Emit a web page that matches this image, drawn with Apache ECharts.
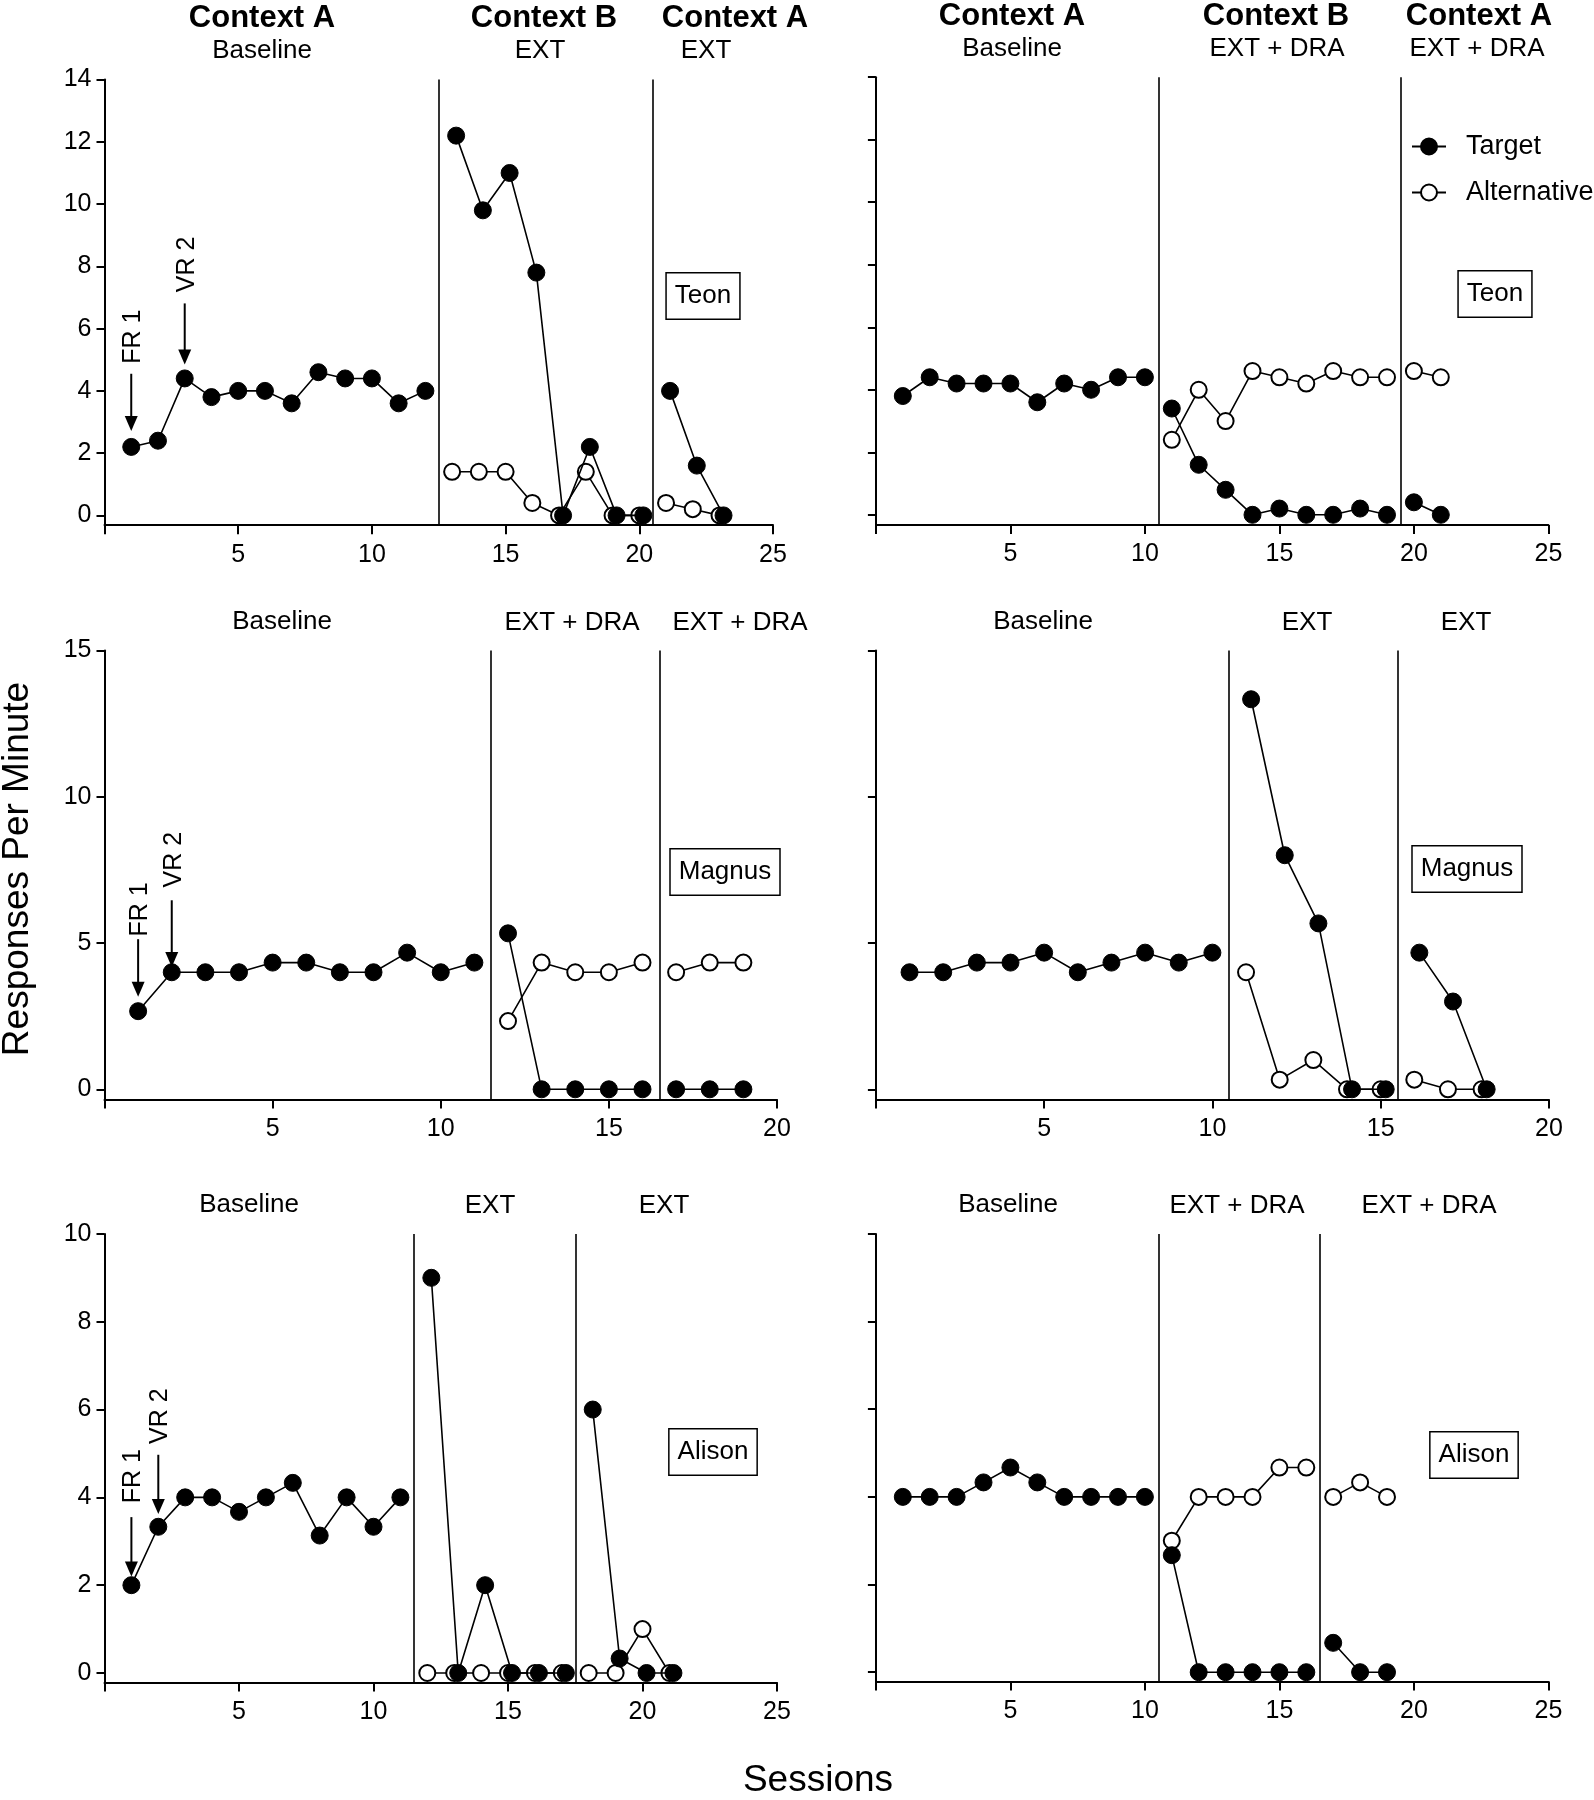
<!DOCTYPE html>
<html><head><meta charset="utf-8">
<script src="https://cdn.jsdelivr.net/npm/echarts@6/dist/echarts.min.js"></script>
<style>html,body{margin:0;padding:0;background:#fff}#c{width:1594px;height:1800px}</style>
</head><body><div id="c"></div>
<script>
// ---------------- DATA ----------------
// Teon, panel 1 (A-B-A, EXT)
const teon1_baseX = [1,2,3,4,5,6,7,8,9,10,11,12];
const teon1_baseTarget = [2.2,2.4,4.4,3.8,4.0,4.0,3.6,4.6,4.4,4.4,3.6,4.0];
const teon1_p2AltX = [13,14,15,16,17,18,19,20];
const teon1_p2Alt = [1.4,1.4,1.4,0.4,0,1.4,0,0];
const teon1_p2TargetX = [13.15,14.15,15.15,16.15,17.15,18.15,19.15,20.15];
const teon1_p2Target = [12.2,9.8,11.0,7.8,0,2.2,0,0];
const teon1_p3AltX = [21,22,23];
const teon1_p3Alt = [0.4,0.2,0];
const teon1_p3TargetX = [21.15,22.15,23.15];
const teon1_p3Target = [4.0,1.6,0];
const teon1_phaseLines = [12.5, 20.5];

// Teon, panel 2 (A-B-A, EXT + DRA)
const teon2_baseX = [1,2,3,4,5,6,7,8,9,10];
const teon2_baseTarget = [3.8,4.4,4.2,4.2,4.2,3.6,4.2,4.0,4.4,4.4];
const teon2_p2X = [11,12,13,14,15,16,17,18,19];
const teon2_p2Target = [3.4,1.6,0.8,0,0.2,0,0,0.2,0];
const teon2_p2Alt = [2.4,4.0,3.0,4.6,4.4,4.2,4.6,4.4,4.4];
const teon2_p3X = [20,21];
const teon2_p3Target = [0.4,0];
const teon2_p3Alt = [4.6,4.4];
const teon2_phaseLines = [10.5, 19.5];

// Magnus, panel 1 (EXT + DRA)
const magnus1_baseX = [1,2,3,4,5,6,7,8,9,10,11];
const magnus1_baseTarget = [2.67,4,4,4,4.33,4.33,4,4,4.67,4,4.33];
const magnus1_p2X = [12,13,14,15,16];
const magnus1_p2Target = [5.33,0,0,0,0];
const magnus1_p2Alt = [2.33,4.33,4,4,4.33];
const magnus1_p3X = [17,18,19];
const magnus1_p3Target = [0,0,0];
const magnus1_p3Alt = [4,4.33,4.33];
const magnus1_phaseLines = [11.5, 16.5];

// Magnus, panel 2 (EXT)
const magnus2_baseX = [1,2,3,4,5,6,7,8,9,10];
const magnus2_baseTarget = [4,4,4.33,4.33,4.67,4,4.33,4.67,4.33,4.67];
const magnus2_p2AltX = [11,12,13,14,15];
const magnus2_p2Alt = [4,0.33,1,0,0];
const magnus2_p2TargetX = [11.15,12.15,13.15,14.15,15.15];
const magnus2_p2Target = [13.33,8,5.67,0,0];
const magnus2_p3AltX = [16,17,18];
const magnus2_p3Alt = [0.33,0,0];
const magnus2_p3TargetX = [16.15,17.15,18.15];
const magnus2_p3Target = [4.67,3,0];
const magnus2_phaseLines = [10.5, 15.5];

// Alison, panel 1 (EXT)
const alison1_baseX = [1,2,3,4,5,6,7,8,9,10,11];
const alison1_baseTarget = [2,3.33,4,4,3.67,4,4.33,3.13,4,3.33,4];
const alison1_p2AltX = [12,13,14,15,16,17];
const alison1_p2Alt = [0,0,0,0,0,0];
const alison1_p2TargetX = [12.15,13.15,14.15,15.15,16.15,17.15];
const alison1_p2Target = [9,0,2,0,0,0];
const alison1_p3AltX = [18,19,20,21];
const alison1_p3Alt = [0,0,1,0];
const alison1_p3TargetX = [18.15,19.15,20.15,21.15];
const alison1_p3Target = [6,0.33,0,0];
const alison1_phaseLines = [11.5, 17.5];

// Alison, panel 2 (EXT + DRA)
const alison2_baseX = [1,2,3,4,5,6,7,8,9,10];
const alison2_baseTarget = [4,4,4,4.33,4.67,4.33,4,4,4,4];
const alison2_p2X = [11,12,13,14,15,16];
const alison2_p2Target = [2.67,0,0,0,0,0];
const alison2_p2Alt = [3,4,4,4,4.67,4.67];
const alison2_p3X = [17,18,19];
const alison2_p3Target = [0.67,0,0];
const alison2_p3Alt = [4,4.33,4];
const alison2_phaseLines = [10.5, 16.5];

// Tick values / labels
const teonYTicks = [0,2,4,6,8,10,12,14];
const magnusYTicks = [0,5,10,15];
const alisonYTicks = [0,2,4,6,8,10];
const xTicks25 = [0,5,10,15,20,25];
const xLabels25 = [5,10,15,20,25];
const xTicks20 = [0,5,10,15,20];
const xLabels20 = [5,10,15,20];

// Text
const headerTexts = ['Context A','Context B','Context A','Context A','Context B','Context A'];
const phaseTexts = [
  ['Baseline','EXT','EXT'], ['Baseline','EXT + DRA','EXT + DRA'],
  ['Baseline','EXT + DRA','EXT + DRA'], ['Baseline','EXT','EXT'],
  ['Baseline','EXT','EXT'], ['Baseline','EXT + DRA','EXT + DRA']
];
const participantNames = ['Teon','Teon','Magnus','Magnus','Alison','Alison'];
const seriesNames = ['Target','Alternative'];

// ---------------- LAYOUT ----------------
const FONT = '"Liberation Sans", Arial, Helvetica, sans-serif';
// per panel: left, rightX, topY (max tick), zeroY, axisY
const layout = [
  {l:104.5, r:773, top:79.6, zero:515.4, axis:525.2, ymax:14, xmax:25},
  {l:875.9, r:1548.4, top:77.2, zero:514.8, axis:525.0, ymax:14, xmax:25},
  {l:104.5, r:777, top:650.4, zero:1089.3, axis:1099.4, ymax:15, xmax:20},
  {l:875.9, r:1548.9, top:650.4, zero:1089.3, axis:1099.4, ymax:15, xmax:20},
  {l:104.5, r:777, top:1233.9, zero:1673, axis:1682.4, ymax:10, xmax:25},
  {l:875.9, r:1548.4, top:1233.9, zero:1672.2, axis:1681.6, ymax:10, xmax:25}
];
const headerPos = [[262,18],[544,18],[735,18],[1012,16],[1276,16],[1479,16]];
const phasePos = [
  [[262,51],[540,51],[706,51]], [[1012,49],[1277,49],[1477,49]],
  [[282,622],[572,623],[740,623]], [[1043,622],[1307,623],[1466,623]],
  [[249,1205],[490,1206],[664,1206]], [[1008,1205],[1237,1206],[1429,1206]]
];
const namePos = [[703,296],[1495,294],[725,872],[1467,869],[713,1452],[1474,1455]];
// annotation arrows (data coordinates of their panel)
const annotations = [
  {g:0, x:1, from:4.55, to:2.71, label:'FR 1', ly:5.74},
  {g:0, x:3, from:6.81, to:4.85, label:'VR 2', ly:8.06},
  {g:2, x:1, from:5.13, to:3.16, label:'FR 1', ly:6.15},
  {g:2, x:2, from:6.46, to:4.18, label:'VR 2', ly:7.85},
  {g:4, x:1, from:3.55, to:2.2, label:'FR 1', ly:4.48},
  {g:4, x:2, from:4.97, to:3.62, label:'VR 2', ly:5.85}
];

// ---------------- BUILD ----------------
const zip = (xs, ys) => xs.map((x, i) => [x, ys[i]]);
const panels = [
  {ticks: teonYTicks, xt: xTicks25, xl: xLabels25, lines: teon1_phaseLines,
   target: [zip(teon1_baseX, teon1_baseTarget), zip(teon1_p2TargetX, teon1_p2Target), zip(teon1_p3TargetX, teon1_p3Target)],
   alt: [zip(teon1_p2AltX, teon1_p2Alt), zip(teon1_p3AltX, teon1_p3Alt)]},
  {ticks: teonYTicks, xt: xTicks25, xl: xLabels25, lines: teon2_phaseLines,
   target: [zip(teon2_baseX, teon2_baseTarget), zip(teon2_p2X, teon2_p2Target), zip(teon2_p3X, teon2_p3Target)],
   alt: [zip(teon2_p2X, teon2_p2Alt), zip(teon2_p3X, teon2_p3Alt)]},
  {ticks: magnusYTicks, xt: xTicks20, xl: xLabels20, lines: magnus1_phaseLines,
   target: [zip(magnus1_baseX, magnus1_baseTarget), zip(magnus1_p2X, magnus1_p2Target), zip(magnus1_p3X, magnus1_p3Target)],
   alt: [zip(magnus1_p2X, magnus1_p2Alt), zip(magnus1_p3X, magnus1_p3Alt)]},
  {ticks: magnusYTicks, xt: xTicks20, xl: xLabels20, lines: magnus2_phaseLines,
   target: [zip(magnus2_baseX, magnus2_baseTarget), zip(magnus2_p2TargetX, magnus2_p2Target), zip(magnus2_p3TargetX, magnus2_p3Target)],
   alt: [zip(magnus2_p2AltX, magnus2_p2Alt), zip(magnus2_p3AltX, magnus2_p3Alt)]},
  {ticks: alisonYTicks, xt: xTicks25, xl: xLabels25, lines: alison1_phaseLines,
   target: [zip(alison1_baseX, alison1_baseTarget), zip(alison1_p2TargetX, alison1_p2Target), zip(alison1_p3TargetX, alison1_p3Target)],
   alt: [zip(alison1_p2AltX, alison1_p2Alt), zip(alison1_p3AltX, alison1_p3Alt)]},
  {ticks: alisonYTicks, xt: xTicks25, xl: xLabels25, lines: alison2_phaseLines,
   target: [zip(alison2_baseX, alison2_baseTarget), zip(alison2_p2X, alison2_p2Target), zip(alison2_p3X, alison2_p3Target)],
   alt: [zip(alison2_p2X, alison2_p2Alt), zip(alison2_p3X, alison2_p3Alt)]}
];

const grids = [], xAxes = [], yAxes = [], series = [];
const axisLineStyle = {color:'#000', width:2};
panels.forEach((p, i) => {
  const L = layout[i];
  grids.push({left:L.l, top:L.top, width:L.r - L.l, height:L.axis - L.top, outerBoundsMode:'none', containLabel:false});
  const ymin = -(L.axis - L.zero) / (L.zero - L.top) * L.ymax;
  const isLeft = (i % 2 === 0);
  xAxes.push({type:'value', gridIndex:i, min:0, max:L.xmax,
    axisLine:{show:true, onZero:false, lineStyle:axisLineStyle},
    axisTick:{show:true, length:9, lineStyle:{color:'#000', width:2}, customValues:p.xt},
    axisLabel:{show:true, customValues:p.xl, margin:17, fontSize:25, color:'#000', fontFamily:FONT},
    splitLine:{show:false}});
  yAxes.push({type:'value', gridIndex:i, min:ymin, max:L.ymax,
    axisLine:{show:true, onZero:false, lineStyle:axisLineStyle},
    axisTick:{show:true, length:8, lineStyle:{color:'#000', width:2}, customValues:p.ticks},
    axisLabel:{show:isLeft, customValues:p.ticks, margin:13, fontSize:25, color:'#000', fontFamily:FONT},
    splitLine:{show:false}});
  p.alt.forEach((d) => {
    series.push({type:'line', name:seriesNames[1], xAxisIndex:i, yAxisIndex:i, data:d,
      symbol:'circle', symbolSize:16, showAllSymbol:true, z:2, silent:true, animation:false,
      itemStyle:{color:'#fff', borderColor:'#000', borderWidth:2},
      lineStyle:{color:'#000', width:1.6}, emphasis:{disabled:true}});
  });
  p.target.forEach((d, k) => {
    const s = {type:'line', name:seriesNames[0], xAxisIndex:i, yAxisIndex:i, data:d,
      symbol:'circle', symbolSize:17, showAllSymbol:true, z:3, silent:true, animation:false,
      itemStyle:{color:'#000', borderColor:'#000', borderWidth:1},
      lineStyle:{color:'#000', width:1.6}, emphasis:{disabled:true}};
    if (k === 0) {
      s.markLine = {silent:true, symbol:'none', animation:false,
        label:{show:false}, lineStyle:{color:'#000', width:1.6, type:'solid'},
        emphasis:{disabled:true},
        data:p.lines.map(v => ({xAxis:v}))};
    }
    series.push(s);
  });
});

const chart = echarts.init(document.getElementById('c'), null, {renderer:'canvas'});
chart.setOption({
  animation:false,
  backgroundColor:'#fff',
  grid:grids, xAxis:xAxes, yAxis:yAxes, series:series,
  legend:{show:true, data:seriesNames, orient:'vertical', left:1411, top:133, padding:0,
    itemWidth:34, itemHeight:20, itemGap:19, selectedMode:false,
    textStyle:{fontSize:27, color:'#000', fontFamily:FONT, padding:[0,0,0,15]}}
});

// ---------------- ANNOTATION GRAPHICS ----------------
const graphics = [];
const txt = (text, x, y, font, extra) => ({type:'text', x:x, y:y, silent:true,
  style:Object.assign({text:text, font:font, fill:'#000', align:'center', verticalAlign:'middle'}, extra || {})});
headerTexts.forEach((t, i) => graphics.push(txt(t, headerPos[i][0], headerPos[i][1], 'bold 31px ' + FONT)));
phaseTexts.forEach((arr, i) => arr.forEach((t, k) => graphics.push(txt(t, phasePos[i][k][0], phasePos[i][k][1], '26px ' + FONT))));
participantNames.forEach((t, i) => graphics.push(txt(t, namePos[i][0], namePos[i][1], '26px ' + FONT,
  {backgroundColor:'#fff', borderColor:'#000', borderWidth:1.5, padding:[8,8,7,8], lineHeight:30})));
graphics.push(txt('Sessions', 818, 1781, '37px ' + FONT));
graphics.push(Object.assign(txt('Responses Per Minute', 0, 0, '37px ' + FONT), {x:18, y:869, rotation:Math.PI/2}));

annotations.forEach(a => {
  const top = chart.convertToPixel({xAxisIndex:a.g, yAxisIndex:a.g}, [a.x, a.from]);
  const tip = chart.convertToPixel({xAxisIndex:a.g, yAxisIndex:a.g}, [a.x, a.to]);
  const lab = chart.convertToPixel({xAxisIndex:a.g, yAxisIndex:a.g}, [a.x, a.ly]);
  const headLen = 15, headW = 6.5;
  graphics.push({type:'line', silent:true, shape:{x1:top[0], y1:top[1], x2:tip[0], y2:tip[1] - headLen + 2},
    style:{stroke:'#000', lineWidth:2}});
  graphics.push({type:'polygon', silent:true, shape:{points:[[tip[0]-headW, tip[1]-headLen],[tip[0]+headW, tip[1]-headLen],[tip[0], tip[1]]]},
    style:{fill:'#000'}});
  graphics.push(Object.assign(txt(a.label, 0, 0, '25px ' + FONT), {x:lab[0] + 2, y:lab[1], rotation:Math.PI/2}));
});
chart.setOption({graphic:graphics});
</script></body></html>
